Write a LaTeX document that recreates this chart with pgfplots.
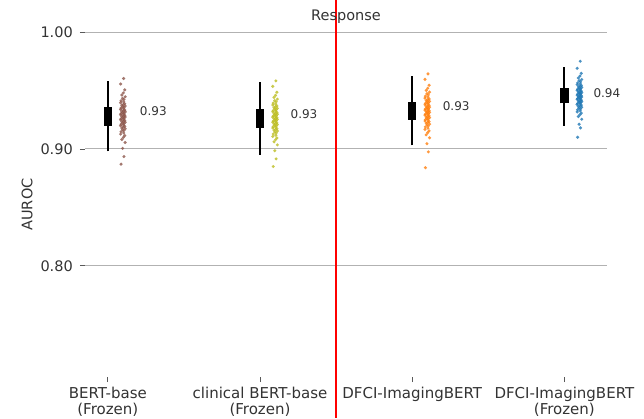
\documentclass[border=0pt]{standalone}
\usepackage{pgfplots}
\pgfplotsset{compat=1.18}
\usepackage{pgfplotstable}
\usepackage{fontspec}
\setmainfont{DejaVu Sans}
\definecolor{cbrown}{HTML}{8C564B}
\definecolor{colive}{HTML}{BCBD22}
\definecolor{corange}{HTML}{FF7F0E}
\definecolor{cblue}{HTML}{1F77B4}
\definecolor{txt}{HTML}{333333}

\pgfplotstableread{
x1 y1 x2 y2 x3 y3 x4 y4
0.087 0.8870 1.087 0.8850 2.087 0.8840 3.087 0.9100
0.106 0.8935 1.106 0.8915 2.106 0.8975 3.106 0.9180
0.097 0.9005 1.097 0.8985 2.097 0.9045 3.097 0.9211
0.114 0.9055 1.114 0.9035 2.114 0.9095 3.114 0.9254
0.092 0.9081 1.092 0.9061 2.092 0.9121 3.092 0.9277
0.102 0.9099 1.102 0.9079 2.102 0.9139 3.102 0.9293
0.111 0.9114 1.111 0.9094 2.111 0.9154 3.111 0.9306
0.084 0.9127 1.084 0.9107 2.084 0.9167 3.084 0.9317
0.104 0.9137 1.104 0.9117 2.104 0.9177 3.104 0.9326
0.087 0.9148 1.087 0.9128 2.087 0.9188 3.087 0.9335
0.106 0.9157 1.106 0.9137 2.106 0.9197 3.106 0.9343
0.097 0.9165 1.097 0.9145 2.097 0.9205 3.097 0.9350
0.114 0.9173 1.114 0.9153 2.114 0.9213 3.114 0.9357
0.092 0.9180 1.092 0.9160 2.092 0.9220 3.092 0.9363
0.102 0.9187 1.102 0.9167 2.102 0.9227 3.102 0.9369
0.111 0.9193 1.111 0.9173 2.111 0.9233 3.111 0.9374
0.084 0.9199 1.084 0.9179 2.084 0.9239 3.084 0.9380
0.104 0.9205 1.104 0.9185 2.104 0.9245 3.104 0.9385
0.087 0.9211 1.087 0.9191 2.087 0.9251 3.087 0.9390
0.106 0.9217 1.106 0.9197 2.106 0.9257 3.106 0.9395
0.097 0.9222 1.097 0.9202 2.097 0.9262 3.097 0.9400
0.114 0.9228 1.114 0.9208 2.114 0.9268 3.114 0.9405
0.092 0.9233 1.092 0.9213 2.092 0.9273 3.092 0.9409
0.102 0.9239 1.102 0.9219 2.102 0.9279 3.102 0.9414
0.111 0.9243 1.111 0.9223 2.111 0.9283 3.111 0.9418
0.084 0.9249 1.084 0.9229 2.084 0.9289 3.084 0.9423
0.104 0.9254 1.104 0.9234 2.104 0.9294 3.104 0.9427
0.087 0.9258 1.087 0.9238 2.087 0.9298 3.087 0.9431
0.106 0.9263 1.106 0.9243 2.106 0.9303 3.106 0.9435
0.097 0.9268 1.097 0.9248 2.097 0.9308 3.097 0.9440
0.114 0.9273 1.114 0.9253 2.114 0.9313 3.114 0.9444
0.092 0.9278 1.092 0.9258 2.092 0.9318 3.092 0.9448
0.102 0.9282 1.102 0.9262 2.102 0.9322 3.102 0.9452
0.111 0.9287 1.111 0.9267 2.111 0.9327 3.111 0.9456
0.084 0.9292 1.084 0.9272 2.084 0.9332 3.084 0.9460
0.104 0.9297 1.104 0.9277 2.104 0.9337 3.104 0.9465
0.087 0.9302 1.087 0.9282 2.087 0.9342 3.087 0.9469
0.106 0.9306 1.106 0.9286 2.106 0.9346 3.106 0.9473
0.097 0.9311 1.097 0.9291 2.097 0.9351 3.097 0.9477
0.114 0.9317 1.114 0.9297 2.114 0.9357 3.114 0.9482
0.092 0.9321 1.092 0.9301 2.092 0.9361 3.092 0.9486
0.102 0.9327 1.102 0.9307 2.102 0.9367 3.102 0.9491
0.111 0.9332 1.111 0.9312 2.111 0.9372 3.111 0.9495
0.084 0.9338 1.084 0.9318 2.084 0.9378 3.084 0.9500
0.104 0.9343 1.104 0.9323 2.104 0.9383 3.104 0.9505
0.087 0.9349 1.087 0.9329 2.087 0.9389 3.087 0.9510
0.106 0.9355 1.106 0.9335 2.106 0.9395 3.106 0.9515
0.097 0.9361 1.097 0.9341 2.097 0.9401 3.097 0.9520
0.114 0.9367 1.114 0.9347 2.114 0.9407 3.114 0.9526
0.092 0.9373 1.092 0.9353 2.092 0.9413 3.092 0.9531
0.102 0.9380 1.102 0.9360 2.102 0.9420 3.102 0.9537
0.111 0.9387 1.111 0.9367 2.111 0.9427 3.111 0.9543
0.084 0.9395 1.084 0.9375 2.084 0.9435 3.084 0.9550
0.104 0.9403 1.104 0.9383 2.104 0.9443 3.104 0.9557
0.087 0.9412 1.087 0.9392 2.087 0.9452 3.087 0.9565
0.106 0.9423 1.106 0.9403 2.106 0.9463 3.106 0.9574
0.097 0.9433 1.097 0.9413 2.097 0.9473 3.097 0.9583
0.114 0.9446 1.114 0.9426 2.114 0.9486 3.114 0.9594
0.092 0.9461 1.092 0.9441 2.092 0.9501 3.092 0.9607
0.102 0.9479 1.102 0.9459 2.102 0.9519 3.102 0.9623
0.111 0.9505 1.111 0.9485 2.111 0.9545 3.111 0.9646
0.084 0.9555 1.084 0.9535 2.084 0.9595 3.084 0.9689
0.104 0.9602 1.104 0.9582 2.104 0.9642 3.104 0.9750
}\strip

\begin{document}
\begin{tikzpicture}
\path[use as bounding box] (-85pt,-41pt) rectangle (559pt,377pt);
\begin{axis}[
  at={(0,0)}, anchor=south west,
  scale only axis, width=522pt, height=345pt,
  xmin=-0.15, xmax=3.28, ymin=0.705, ymax=1.0,
  clip=false,
  axis line style={draw=none},
  tick pos=left, tick align=outside,
  major tick length=5pt,
  tick style={black!65, line width=0.8pt},
  xtick={0,1,2,3},
  xticklabels={{BERT-base\\(Frozen)},{clinical BERT-base\\(Frozen)},{DFCI-ImagingBERT},{DFCI-ImagingBERT\\(Frozen)}},
  xticklabel style={align=center, anchor=north, inner sep=0pt, yshift=-5pt, font=\fontsize{15}{16}\selectfont, text=txt},
  ytick={0.8,0.9,1.0},
  yticklabels={0.80,0.90,1.00},
  yticklabel style={anchor=east, inner sep=0pt, xshift=-7pt, font=\fontsize{14.5}{17}\selectfont, text=txt},
  ymajorgrids, grid style={black!30, line width=0.9pt},
  ylabel={AUROC},
  every axis y label/.style={at={(axis description cs:0,0.5)}, xshift=-58pt, rotate=90, anchor=center, font=\fontsize{14.5}{17}\selectfont, text=txt},
  title={Response},
  every axis title/.style={at={(axis description cs:0.5,1)}, anchor=center, yshift=15pt, font=\fontsize{14.5}{17}\selectfont, text=txt},
]
% strips
\addplot[cbrown, only marks, mark=*, mark size=1.7pt, mark options={draw opacity=0, fill opacity=0.8}] table[x=x1,y=y1]{\strip};
\addplot[colive, only marks, mark=*, mark size=1.7pt, mark options={draw opacity=0, fill opacity=0.8}] table[x=x2,y=y2]{\strip};
\addplot[corange, only marks, mark=*, mark size=1.7pt, mark options={draw opacity=0, fill opacity=0.8}] table[x=x3,y=y3]{\strip};
\addplot[cblue, only marks, mark=*, mark size=1.7pt, mark options={draw opacity=0, fill opacity=0.8}] table[x=x4,y=y4]{\strip};
% whiskers
\addplot[black, line width=2pt] coordinates {(0,0.898) (0,0.958)};
\addplot[black, line width=2pt] coordinates {(1,0.895) (1,0.957)};
\addplot[black, line width=2pt] coordinates {(2,0.903) (2,0.962)};
\addplot[black, line width=2pt] coordinates {(3,0.920) (3,0.970)};
% boxes
\addplot[black, line width=8.5pt] coordinates {(0,0.920) (0,0.936)};
\addplot[black, line width=8.5pt] coordinates {(1,0.918) (1,0.934)};
\addplot[black, line width=8.5pt] coordinates {(2,0.925) (2,0.940)};
\addplot[black, line width=8.5pt] coordinates {(3,0.939) (3,0.952)};
% value labels
\addplot[draw=none, nodes near coords, point meta=explicit symbolic,
  every node near coord/.append style={anchor=west, inner sep=0pt, font=\fontsize{12}{14}\selectfont, text=txt}]
  coordinates {(0.21,0.9325)[0.93] (1.2,0.930)[0.93] (2.2,0.937)[0.93] (3.19,0.948)[0.94]};
% separator
\addplot[red, line width=2pt] coordinates {(1.5,0.67) (1.5,1.0274)};
\end{axis}
\end{tikzpicture}
\end{document}
